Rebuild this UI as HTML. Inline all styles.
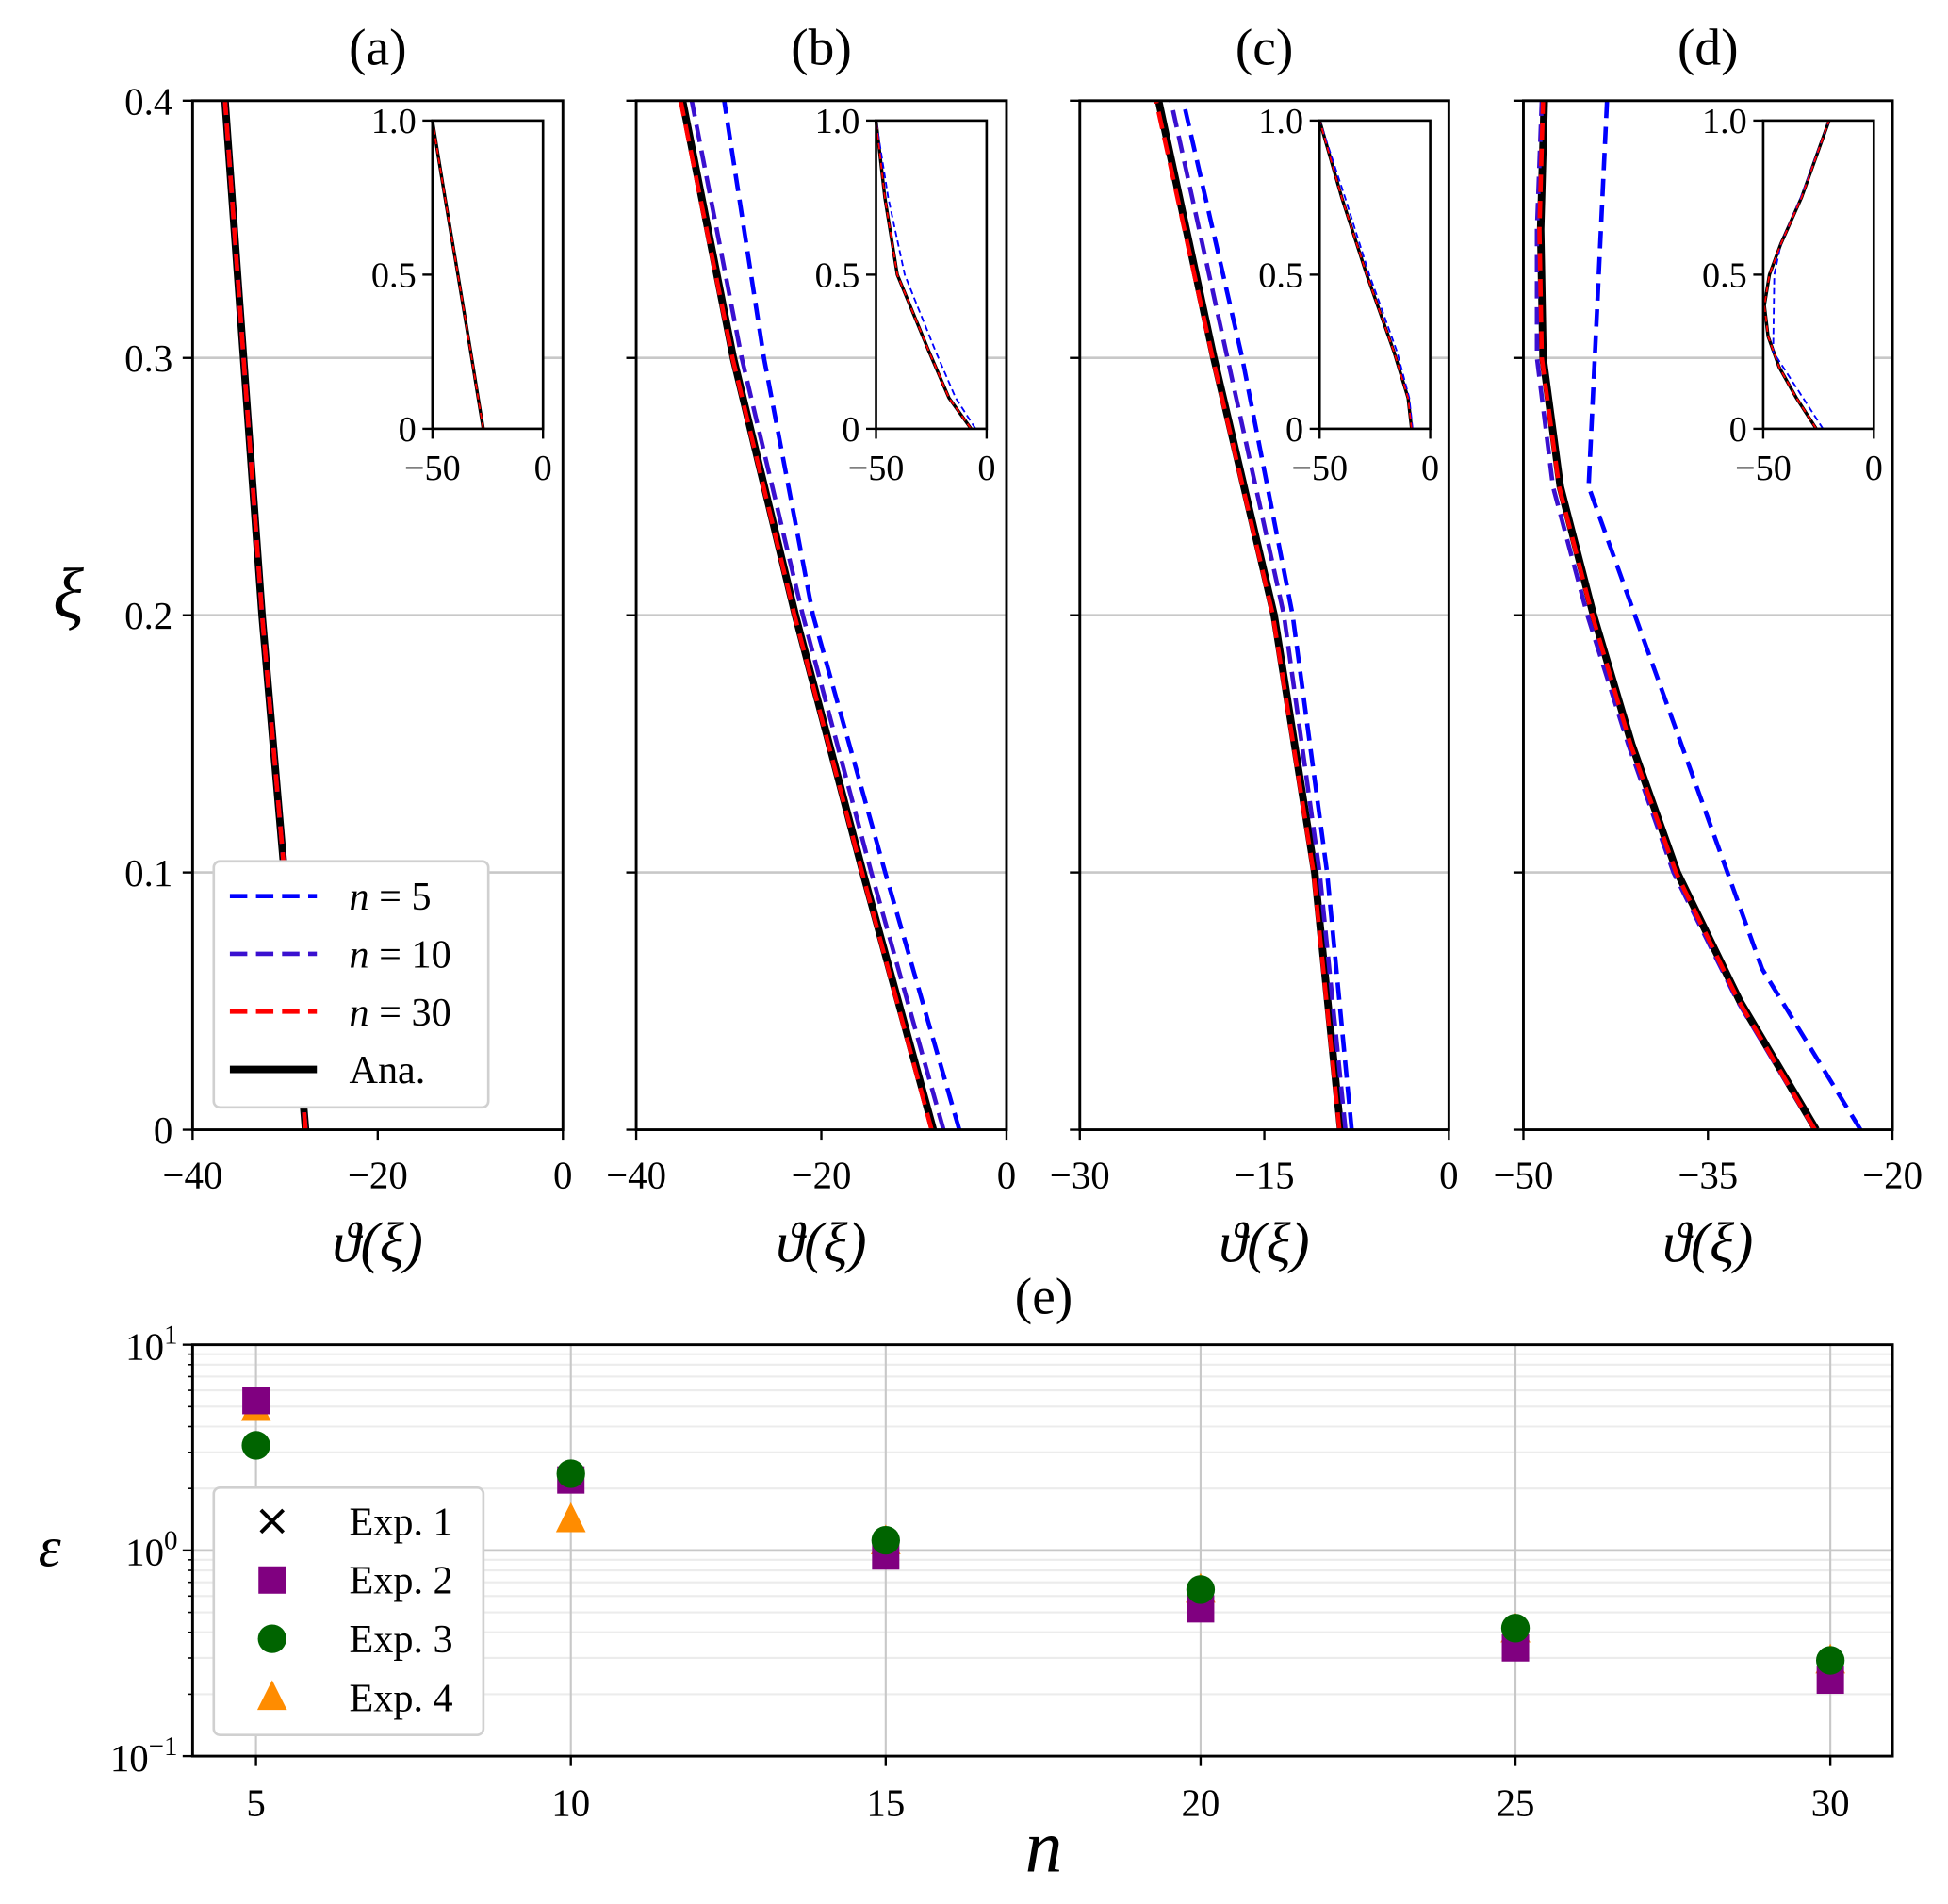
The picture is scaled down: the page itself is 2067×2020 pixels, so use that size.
<!DOCTYPE html>
<html><head><meta charset="utf-8"><style>
html,body{margin:0;padding:0;background:#fff}
svg{display:block}
text{font-family:"Liberation Serif",serif;fill:#000}
</style></head><body>
<svg id="fig" width="2067" height="2020" viewBox="0 0 1567.7 1532" preserveAspectRatio="none" xmlns="http://www.w3.org/2000/svg"></svg>
<script>
// ---------- data ----------
const xiTop=[0,0.1,0.2,0.3,0.4];
const anaA=[-27.8,-30.1,-32.5,-34.5,-36.5];
const n30A=[-27.8,-30.1,-32.5,-34.5,-36.5];
const n10A=[-27.8,-30.1,-32.5,-34.5,-36.5];
const n5A=[-27.8,-30.1,-32.5,-34.5,-36.5];
const anaB=[-7.9,-15.5,-22.8,-29.5,-35.0];
const n30B=[-8.1,-15.6,-22.9,-29.6,-35.2];
const n10B=[-6.8,-14.6,-22.0,-28.6,-34.0];
const n5B=[-5.1,-13.1,-20.9,-26.2,-30.5];
const anaC=[-8.8,-10.9,-14.2,-19.1,-23.6];
const n30C=[-8.9,-11.0,-14.3,-19.2,-23.8];
const n10C=[-8.4,-10.5,-13.4,-18.0,-22.6];
const n5C=[-7.9,-9.9,-12.7,-16.8,-21.6];
const xiD=[0,0.05,0.1,0.15,0.2,0.25,0.3,0.35,0.4];
const anaD=[-26.2,-32.4,-37.5,-41.2,-44.3,-47.0,-48.4,-48.6,-48.3];
const n30D=[-26.3,-32.5,-37.6,-41.3,-44.4,-47.1,-48.5,-48.7,-48.4];
const n10D=[-26.3,-32.6,-37.8,-41.5,-44.8,-47.6,-48.9,-48.9,-48.5];
const xiD5=[0,0.0625,0.25,0.4];
const n5D=[-22.6,-30.6,-44.7,-43.2];
// insets
const insXi=[0,0.1,0.25,0.5,0.75,1];
const insA=[-27,-29.3,-32.7,-38.5,-44.3,-50];
const insB=[-7,-17,-26,-40.4,-46,-50];
const insB5=[-5,-14,-23,-37,-44.5,-50];
const insC=[-8.4,-10,-16.4,-28.7,-40,-50];
const insC5=[-8,-9.5,-15,-27.5,-38.5,-50];
const insXiD=[0,0.1,0.2,0.3,0.4,0.5,0.6,0.75,1];
const insD=[-26,-35,-42.8,-47.8,-49.5,-47.2,-42,-32.7,-20.2];
const insXiD5=[0,0.25,0.5,0.6,0.75,1];
const insD5=[-23,-45.5,-45,-42,-33,-20.2];
// panel e
const nCats=[5,10,15,20,25,30];
const exp1=[5.35,2.2,0.94,0.52,0.336,0.234];
const exp2=[5.35,2.2,0.94,0.52,0.336,0.234];
const exp3=[3.24,2.36,1.12,0.645,0.419,0.292];
const exp4=[4.9,1.41,1.1,0.64,0.41,0.29];
const xTicksA=[-40,-20,0], xTicksB=[-40,-20,0], xTicksC=[-30,-15,0], xTicksD=[-50,-35,-20];
const yTicksTop=[0,0.1,0.2,0.3,0.4];
const yTickLabelsTop=["0","0.1","0.2","0.3","0.4"];

// ---------- helpers ----------
const NS="http://www.w3.org/2000/svg";
const svg=document.getElementById('fig');
function mk(tag,attrs,parent){const e=document.createElementNS(NS,tag);for(const k in attrs)e.setAttribute(k,attrs[k]);(parent||svg).appendChild(e);return e;}
function txt(s,x,y,size,anchor,parent,italic){const t=mk('text',{x:x,y:y,'font-size':size,'text-anchor':anchor||'middle'},parent);if(italic)t.setAttribute('font-style','italic');t.textContent=s;return t;}
function fmt(v){return v<0?'\u2212'+(-v):''+v;}

const Y0=909,Y1=81;
const panels=[
 {id:'a',x0:155,x1:453,xmin:-40,xmax:0,ticks:xTicksA,series:[[xiTop,anaA,'ana'],[xiTop,n5A,'n5'],[xiTop,n10A,'n10'],[xiTop,n30A,'n30']],ins:{x0:348,series:[[insXi,insA,'ana'],[insXi,insA,'n30']]}},
 {id:'b',x0:512,x1:810,xmin:-40,xmax:0,ticks:xTicksB,series:[[xiTop,anaB,'ana'],[xiTop,n5B,'n5'],[xiTop,n10B,'n10'],[xiTop,n30B,'n30']],ins:{x0:705,series:[[insXi,insB,'ana'],[insXi,insB5,'n5'],[insXi,insB,'n30']]}},
 {id:'c',x0:869,x1:1166,xmin:-30,xmax:0,ticks:xTicksC,series:[[xiTop,anaC,'ana'],[xiTop,n5C,'n5'],[xiTop,n10C,'n10'],[xiTop,n30C,'n30']],ins:{x0:1062,series:[[insXi,insC,'ana'],[insXi,insC5,'n5'],[insXi,insC,'n30']]}},
 {id:'d',x0:1226,x1:1523,xmin:-50,xmax:-20,ticks:xTicksD,series:[[xiD,anaD,'ana'],[xiD5,n5D,'n5'],[xiD,n10D,'n10'],[xiD,n30D,'n30']],ins:{x0:1419,series:[[insXiD,insD,'ana'],[insXiD5,insD5,'n5'],[insXiD,insD,'n30']]}}
];
const styles={ana:{stroke:'#000',w:6,dash:null},n5:{stroke:'#0000ff',w:3.5,dash:'14 7'},n10:{stroke:'#3a10d0',w:3.5,dash:'14 7'},n30:{stroke:'#ff0000',w:3.5,dash:'14 7'}};
const insStyles={ana:{stroke:'#000',w:2.6,dash:null},n5:{stroke:'#0000ff',w:1.4,dash:'5 3'},n30:{stroke:'#ff0000',w:1.4,dash:'5 3'}};
const order=['ana','n5','n10','n30'];

panels.forEach(p=>{
  const g=mk('g',{});
  
  
  const sx=v=>p.x0+(v-p.xmin)/(p.xmax-p.xmin)*(p.x1-p.x0);
  const sy=v=>Y0+(v-0)/(0.4)*(Y1-Y0);
  [0.1,0.2,0.3].forEach(v=>{const l=mk('line',{x1:p.x0,x2:p.x1,y1:sy(v),y2:sy(v),stroke:'#c8c8c8','stroke-width':2},g);
    });
  const cp=mk('clipPath',{id:'clip'+p.id},g);mk('rect',{x:p.x0,y:Y1,width:p.x1-p.x0,height:Y0-Y1},cp);
  const cg=mk('g',{'clip-path':'url(#clip'+p.id+')'},g);
  order.forEach(k=>{p.series.filter(s=>s[2]===k).forEach(s=>{
    const st=styles[k];
    const pts=s[0].map((xi,i)=>sx(s[1][i]).toFixed(1)+','+sy(xi).toFixed(1)).join(' ');
    const pl=mk('polyline',{points:pts,fill:'none',stroke:st.stroke,'stroke-width':st.w,'stroke-linejoin':'round'},cg);
    if(st.dash)pl.setAttribute('stroke-dasharray',st.dash);
    
    
  });});
  const fr=mk('rect',{x:p.x0,y:Y1,width:p.x1-p.x0,height:Y0-Y1,fill:'none',stroke:'#000','stroke-width':2.2},g);
  
  p.ticks.forEach(v=>{mk('line',{x1:sx(v),x2:sx(v),y1:Y0,y2:Y0+8,stroke:'#000','stroke-width':1.8},g);
    const t=txt(fmt(v),sx(v),Y0+47,31,'middle',g);});
  yTicksTop.forEach((v,i)=>{mk('line',{x1:p.x0,x2:p.x0-8,y1:sy(v),y2:sy(v),stroke:'#000','stroke-width':1.8},g);
    if(p.id==='a'){const t=txt(yTickLabelsTop[i],p.x0-16,sy(v)+11,31,'end',g);}});
  const tt=txt('('+p.id+')',(p.x0+p.x1)/2,52,42,'middle',g);
  const xl=txt('\u03D1(\u03BE)',(p.x0+p.x1)/2,1015,46,'middle',g,true);
  const I={x0:p.ins.x0,x1:p.ins.x0+89,y0:345,y1:97};
  const ig=mk('g',{},g);
  mk('rect',{x:I.x0,y:I.y1,width:89,height:248,fill:'#fff'},ig);
  const ix=v=>I.x0+(v+50)/50*89, iy=v=>I.y0+v*(I.y1-I.y0);
  ['ana','n5','n30'].forEach(k=>{p.ins.series.filter(s=>s[2]===k).forEach(s=>{
    const st=insStyles[k];
    const pts=s[0].map((xi,i)=>ix(s[1][i]).toFixed(1)+','+iy(xi).toFixed(1)).join(' ');
    const pl=mk('polyline',{points:pts,fill:'none',stroke:st.stroke,'stroke-width':st.w},ig);
    if(st.dash)pl.setAttribute('stroke-dasharray',st.dash);
    
  });});
  mk('rect',{x:I.x0,y:I.y1,width:89,height:248,fill:'none',stroke:'#000','stroke-width':2},ig);
  [-50,0].forEach(v=>{mk('line',{x1:ix(v),x2:ix(v),y1:I.y0,y2:I.y0+8,stroke:'#000','stroke-width':1.8},ig);txt(fmt(v),ix(v),I.y0+41,29,'middle',ig);});
  [[0,'0'],[0.5,'0.5'],[1,'1.0']].forEach(a=>{mk('line',{x1:I.x0,x2:I.x0-8,y1:iy(a[0]),y2:iy(a[0]),stroke:'#000','stroke-width':1.8},ig);txt(a[1],I.x0-13,iy(a[0])+10,29,'end',ig);});
});
const yl=txt('\u03BE',55,497,58,'middle',null,true);

(function(){
  const g=mk('g',{});
  mk('rect',{x:172,y:693,width:221,height:198,rx:5,fill:'#fff',stroke:'#d0d0d0','stroke-width':2},g);
  const items=[['n5','n = 5'],['n10','n = 10'],['n30','n = 30'],['ana','Ana.']];
  items.forEach((it,i)=>{const y=721+i*46.5;const st=styles[it[0]];
    const e=mk('g',{},g);
    const l=mk('line',{x1:185,x2:255,y1:y,y2:y,stroke:st.stroke,'stroke-width':st.w},e);if(st.dash)l.setAttribute('stroke-dasharray',st.dash);
    if(it[0]==='ana'){txt('Ana.',281,y+11,32,'start',e);}
    else{const t=mk('text',{x:281,y:y+11,'font-size':32},e);const a=mk('tspan',{'font-style':'italic'},t);a.textContent='n';const b=mk('tspan',{},t);b.textContent=' = '+it[1].split('= ')[1];}
  });
})();

(function(){
  const g=mk('g',{});
  const X0=155,X1=1523,T=1082,B=1413;
  const sx=n=>206+(n-5)/25*(1473-206);
  const sy=v=>T+(1-Math.log10(v))*(B-T)/2;
  [0.1,1].forEach(d=>{for(let m=2;m<=9;m++){const y=sy(d*m);mk('line',{x1:X0,x2:X1,y1:y,y2:y,stroke:'#ececec','stroke-width':1.6},g);mk('line',{x1:X0,x2:X0-4,y1:y,y2:y,stroke:'#000','stroke-width':1.2},g);}});
  [1].forEach(v=>mk('line',{x1:X0,x2:X1,y1:sy(v),y2:sy(v),stroke:'#c8c8c8','stroke-width':2},g));
  nCats.forEach(n=>{const l=mk('line',{x1:sx(n),x2:sx(n),y1:T,y2:B,stroke:'#c8c8c8','stroke-width':1.6},g);
    mk('line',{x1:sx(n),x2:sx(n),y1:B,y2:B+8,stroke:'#000','stroke-width':1.8},g);
    const t=txt(''+n,sx(n),B+48,31,'middle',g);});
  [[10,'1'],[1,'0'],[0.1,'\u22121']].forEach(a=>{const y=sy(a[0]);mk('line',{x1:X0,x2:X0-8,y1:y,y2:y,stroke:'#000','stroke-width':1.8},g);
    const t=mk('text',{x:X0-12,y:y+12,'font-size':31,'text-anchor':'end'},g);
    const b=mk('tspan',{},t);b.textContent='10';const s=mk('tspan',{dy:-13,'font-size':22},t);s.textContent=a[1];});
  function tri(x,y,c,parent){return mk('polygon',{points:`${x},${y-14} ${x-12},${y+10} ${x+12},${y+10}`,fill:c},parent);}
  function sq(x,y,c,parent){return mk('rect',{x:x-11,y:y-11,width:22,height:22,fill:c},parent);}
  function circ(x,y,c,parent){return mk('circle',{cx:x,cy:y,r:11.5,fill:c},parent);}
  function cross(x,y,parent){const gg=mk('g',{stroke:'#000','stroke-width':3},parent);mk('line',{x1:x-9,y1:y-9,x2:x+9,y2:y+9},gg);mk('line',{x1:x-9,y1:y+9,x2:x+9,y2:y-9},gg);return gg;}
  nCats.forEach((n,i)=>{const m=tri(sx(n),sy(exp4[i]),'#ff8c00',g);});
  nCats.forEach((n,i)=>{const m=cross(sx(n),sy(exp1[i]),g);});
  nCats.forEach((n,i)=>{const m=sq(sx(n),sy(exp2[i]),'#800080',g);});
  nCats.forEach((n,i)=>{const m=circ(sx(n),sy(exp3[i]),'#006400',g);});
  mk('rect',{x:X0,y:T,width:X1-X0,height:B-T,fill:'none',stroke:'#000','stroke-width':2.2},g);
  const tt=txt('(e)',840,1057,42,'middle',g);
  const xl=txt('n',840,1506,60,'middle',g,true);
  const yl=txt('\u03B5',40,1260,46,'middle',g,true);
  const lg=mk('g',{},g);
  mk('rect',{x:172,y:1197,width:217,height:199,rx:5,fill:'#fff',stroke:'#d0d0d0','stroke-width':2},lg);
  const labels=['Exp. 1','Exp. 2','Exp. 3','Exp. 4'];
  labels.forEach((s,i)=>{const y=1224+i*47.3;const e=mk('g',{},lg);
    if(i===0)cross(219,y,e);if(i===1)sq(219,y,'#800080',e);if(i===2)circ(219,y,'#006400',e);if(i===3)tri(219,y,'#ff8c00',e);
    txt(s,281,y+11,32,'start',e);});
})();
</script>
</body></html>
